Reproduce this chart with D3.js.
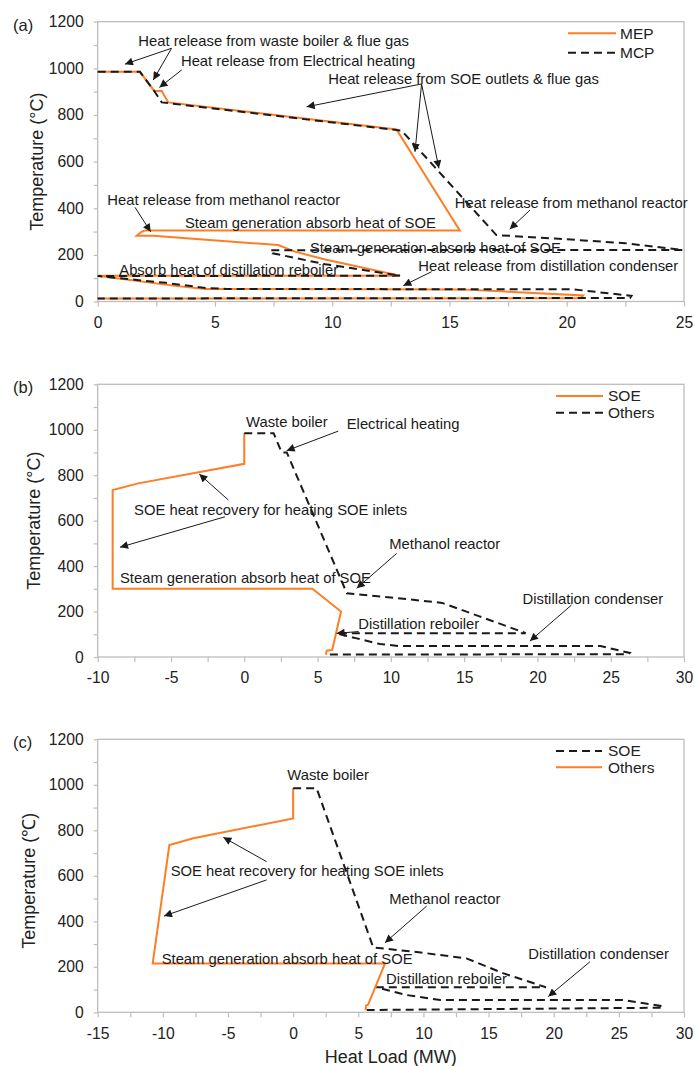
<!DOCTYPE html>
<html>
<head>
<meta charset="utf-8">
<script src="https://cdn.jsdelivr.net/npm/d3@7"></script>
<style>
  body { margin: 0; background: #fff; }
  svg text { font-family: "Liberation Sans", Arial, sans-serif; }
</style>
</head>
<body>
<svg id="chart" width="695" height="1066"></svg>
<script>
// ---------- (a) MEP vs MCP composite curves: heat load (MW), temperature (°C) ----------
const mepLoad = [0, 1.8, 2.41, 2.73, 3.01, 12.74, 15.44, 2.02, 1.85, 1.66, 2.37, 7.7, 8.41, 9.7, 12.89, 0, 3.3, 4.6, 15.5, 20.7, 20.6, 0];
const mepTemp = [985, 985, 903, 903, 854, 738, 305, 305, 298, 282, 282, 242, 214, 180, 110, 110, 67, 54, 52, 26, 14, 13];

const mcpLoad = [0, 1.8, 2.41, 2.73, 12.96, 17.0, 19.5, 22.5, 24.95, 7.35, 7.45, 9.7, 12.9, 0, 2.9, 4.6, 5.5, 20.3, 22.76, 22.7, 0];
const mcpTemp = [985, 985, 903, 854, 733, 285, 270, 250, 221, 220, 207, 160, 111, 109, 80, 58, 54, 52, 24, 15, 13];

// ---------- (b) MEP split into SOE and other streams ----------
const soeBLoad = [0, 0, -7.23, -8.98, -8.98, 4.65, 6.6, 6.0, 5.62, 5.57];
const soeBTemp = [985, 850, 764, 735, 300, 300, 200, 31, 28, 10];

const othBLoad = [0, 2.0, 2.55, 2.9, 7.0, 10, 13.5, 16, 19.2, 6.3, 7.67, 9.26, 10.6, 24.3, 26.3, 26.2, 5.7];
const othBTemp = [985, 985, 900, 900, 280, 262, 238, 180, 105, 104, 82, 57, 48, 48, 18, 12, 11];

// ---------- (c) MCP split into SOE and other streams ----------
const othCLoad = [0, 0, -7.66, -9.5, -10.78, 7.05, 5.75, 5.6, 5.55];
const othCTemp = [985, 852, 765, 735, 215, 215, 33, 30, 10];

const soeCLoad = [0, 1.8, 6.15, 9.5, 13.3, 16.1, 19.4, 6.4, 8.7, 11.3, 25.3, 28.4, 28.3, 5.65];
const soeCTemp = [985, 985, 285, 265, 237, 172, 110, 110, 76, 54, 54, 27, 20, 10];

// ---------- axis tick labels ----------
const tempTicks = [0, 200, 400, 600, 800, 1000, 1200];
const loadTicksA = [0, 5, 10, 15, 20, 25];
const loadTicksB = [-10, -5, 0, 5, 10, 15, 20, 25, 30];
const loadTicksC = [-15, -10, -5, 0, 5, 10, 15, 20, 25, 30];

// ---------- annotations (anchors in MW / °C) ----------
const notesA = [
  { t: "Heat release from waste boiler & flue gas", x: 1.73, y: 1118 },
  { t: "Heat release from Electrical heating", x: 3.55, y: 1031 },
  { t: "Heat release from SOE outlets & flue gas", x: 9.83, y: 953 },
  { t: "Heat release from methanol reactor", x: 0.41, y: 438 },
  { t: "Steam generation absorb heat of SOE", x: 3.72, y: 338 },
  { t: "Steam generation absorb heat of SOE", x: 9.05, y: 232 },
  { t: "Absorb heat of distillation reboiler", x: 0.92, y: 135 },
  { t: "Heat release from methanol reactor", x: 15.23, y: 425 },
  { t: "Heat release from distillation condenser", x: 13.67, y: 154 }
];
const arrowsA = [
  [3.15, 1086, 1.16, 1018], [3.15, 1086, 2.37, 950], [3.58, 993, 2.63, 918],
  [13.81, 933, 8.91, 835], [13.81, 933, 13.53, 642], [13.81, 933, 14.55, 571],
  [1.59, 404, 2.26, 299], [18.43, 392, 17.57, 310], [14.24, 128, 13.03, 68]
];

const notesB = [
  { t: "Waste boiler", x: 0.12, y: 1035 },
  { t: "Electrical heating", x: 6.99, y: 1028 },
  { t: "SOE heat recovery for heating SOE inlets", x: -7.52, y: 647 },
  { t: "Steam generation absorb heat of SOE", x: -8.48, y: 348 },
  { t: "Methanol reactor", x: 9.89, y: 497 },
  { t: "Distillation condenser", x: 18.99, y: 258 },
  { t: "Distillation reboiler", x: 7.78, y: 145 }
];
const arrowsB = [
  [6.41, 994, 2.89, 908], [-1.09, 691, -3.07, 805], [-1.32, 617, -8.48, 483],
  [10.4, 456, 7.67, 302], [22.33, 229, 19.49, 70], [7.8, 112, 6.3, 104]
];

const notesC = [
  { t: "Waste boiler", x: -0.45, y: 1043 },
  { t: "SOE heat recovery for heating SOE inlets", x: -9.4, y: 622 },
  { t: "Steam generation absorb heat of SOE", x: -10.09, y: 237 },
  { t: "Methanol reactor", x: 7.38, y: 498 },
  { t: "Distillation condenser", x: 18.05, y: 259 },
  { t: "Distillation reboiler", x: 7.13, y: 145 }
];
const arrowsC = [
  [-2.03, 662, -5.36, 769], [-2.03, 582, -9.91, 423],
  [10.25, 467, 7.05, 306], [22.78, 222, 19.58, 69]
];

// ---------- styling ----------
const ORANGE = "#ff7d25";
const INK = "#1a1a1a";
const AXIS = "#bdbdbd";
const plotLeft = 97.7, plotRight = 684;

const svg = d3.select("#chart");
const defs = svg.append("defs");
defs.append("marker")
  .attr("id", "head")
  .attr("viewBox", "0 0 10 10")
  .attr("refX", 10).attr("refY", 5)
  .attr("markerUnits", "userSpaceOnUse")
  .attr("markerWidth", 10).attr("markerHeight", 8)
  .attr("orient", "auto")
  .append("path").attr("d", "M0,0 L10,5 L0,10 Z").attr("fill", INK);

const solid = { stroke: ORANGE, dash: null };
const dashed = { stroke: INK, dash: "8,5" };

const panels = [
  {
    tag: "(a)", top: 21.7, bottom: 301.5, xDomain: [0, 25], xLabels: loadTicksA,
    yTitle: "Temperature (°C)", yTitleX: 37, yTitleShift: 0,
    series: [
      { load: mepLoad, temp: mepTemp, style: solid, name: "MEP" },
      { load: mcpLoad, temp: mcpTemp, style: dashed, name: "MCP" }
    ],
    legend: { x1: 568, x2: 616, tx: 620, rows: [11.6, 31] },
    notes: notesA, arrows: arrowsA
  },
  {
    tag: "(b)", top: 384.3, bottom: 657, xDomain: [-10, 30], xLabels: loadTicksB,
    yTitle: "Temperature (°C)", yTitleX: 34, yTitleShift: 0,
    series: [
      { load: soeBLoad, temp: soeBTemp, style: solid, name: "SOE" },
      { load: othBLoad, temp: othBTemp, style: dashed, name: "Others" }
    ],
    legend: { x1: 556, x2: 603, tx: 608, rows: [11.7, 28.4] },
    notes: notesB, arrows: arrowsB
  },
  {
    tag: "(c)", top: 739.3, bottom: 1012.3, xDomain: [-15, 30], xLabels: loadTicksC,
    yTitle: "Temperature (℃)", yTitleX: 29, yTitleShift: 5,
    series: [
      { load: othCLoad, temp: othCTemp, style: solid, name: "Others" },
      { load: soeCLoad, temp: soeCTemp, style: dashed, name: "SOE" }
    ],
    legendOrder: [1, 0],
    legend: { x1: 556, x2: 602, tx: 608, rows: [11.7, 28] },
    notes: notesC, arrows: arrowsC,
    xTitle: "Heat Load (MW)"
  }
];

panels.forEach(p => {
  const x = d3.scaleLinear().domain(p.xDomain).range([plotLeft, plotRight]);
  const y = d3.scaleLinear().domain([0, 1200]).range([p.bottom, p.top]);
  const g = svg.append("g");

  // plot frame
  g.append("rect")
    .attr("x", plotLeft).attr("y", p.top)
    .attr("width", plotRight - plotLeft).attr("height", p.bottom - p.top)
    .attr("fill", "none").attr("stroke", AXIS).attr("stroke-width", 1.3);

  // y axis: ticks every 100, labels every 200
  const yAxis = d3.axisLeft(y)
    .tickValues(d3.range(0, 1201, 100))
    .tickFormat(d => tempTicks.includes(d) ? String(d) : "")
    .tickSize(4).tickSizeOuter(0).tickPadding(10);
  const ya = g.append("g").attr("transform", `translate(${plotLeft},0)`).call(yAxis);
  ya.select(".domain").remove();
  ya.selectAll("line").attr("stroke", AXIS).attr("stroke-width", 1.2);
  ya.selectAll("text").attr("font-size", 15.7).attr("fill", "#222")
    .attr("font-family", "Liberation Sans, Arial, sans-serif");

  // x axis: ticks every 2.5, labels every 5
  const xAxis = d3.axisBottom(x)
    .tickValues(d3.range(p.xDomain[0], p.xDomain[1] + 0.01, 2.5))
    .tickFormat(d => p.xLabels.includes(d) ? String(d) : "")
    .tickSize(5).tickSizeOuter(0);
  const xa = g.append("g").attr("transform", `translate(0,${p.bottom})`).call(xAxis);
  xa.select(".domain").remove();
  xa.selectAll("line").attr("stroke", AXIS).attr("stroke-width", 1.2);
  xa.selectAll("text").attr("font-size", 15.7).attr("fill", "#222")
    .attr("font-family", "Liberation Sans, Arial, sans-serif")
    .attr("y", 21).attr("dy", "0.35em");

  // axis titles and panel tag
  const yc = (p.top + p.bottom) / 2 + p.yTitleShift;
  g.append("text")
    .attr("transform", `translate(${p.yTitleX},${yc}) rotate(-90)`)
    .attr("text-anchor", "middle").attr("dy", "0.35em")
    .attr("font-size", 18).attr("fill", "#222").text(p.yTitle);
  g.append("text")
    .attr("x", 13).attr("y", p.top + 3.4).attr("dy", "0.35em")
    .attr("font-size", 16.5).attr("fill", "#222").text(p.tag);
  if (p.xTitle) {
    g.append("text")
      .attr("x", (plotLeft + plotRight) / 2).attr("y", 1056.5).attr("dy", "0.35em")
      .attr("text-anchor", "middle").attr("font-size", 18).attr("fill", "#222")
      .text(p.xTitle);
  }

  // composite curves
  const line = d3.line().x(d => x(d[0])).y(d => y(d[1]));
  p.series.forEach(s => {
    g.append("path")
      .datum(d3.zip(s.load, s.temp))
      .attr("d", line)
      .attr("fill", "none")
      .attr("stroke", s.style.stroke)
      .attr("stroke-width", 2)
      .attr("stroke-linejoin", "miter")
      .attr("stroke-dasharray", s.style.dash);
  });

  // annotation labels
  g.selectAll(null).data(p.notes).join("text")
    .attr("x", d => x(d.x)).attr("y", d => y(d.y)).attr("dy", "0.35em")
    .attr("font-size", 14.8).attr("fill", INK)
    .text(d => d.t);

  // annotation arrows
  g.selectAll(null).data(p.arrows).join("line")
    .attr("x1", d => x(d[0])).attr("y1", d => y(d[1]))
    .attr("x2", d => x(d[2])).attr("y2", d => y(d[3]))
    .attr("stroke", INK).attr("stroke-width", 1)
    .attr("marker-end", "url(#head)");

  // legend
  const order = p.legendOrder || [0, 1];
  order.forEach((si, row) => {
    const s = p.series[si];
    const ly = p.top + p.legend.rows[row];
    g.append("line")
      .attr("x1", p.legend.x1).attr("x2", p.legend.x2)
      .attr("y1", ly).attr("y2", ly)
      .attr("stroke", s.style.stroke).attr("stroke-width", 2)
      .attr("stroke-dasharray", s.style.dash);
    g.append("text")
      .attr("x", p.legend.tx).attr("y", ly).attr("dy", "0.35em")
      .attr("font-size", 15.5).attr("fill", "#222").text(s.name);
  });
});
</script>
</body>
</html>
